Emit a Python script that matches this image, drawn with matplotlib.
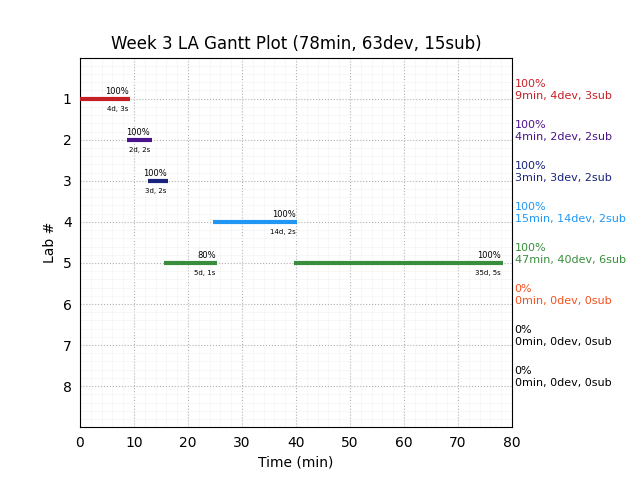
import matplotlib
matplotlib.use("Agg")
import matplotlib.pyplot as plt
from matplotlib.ticker import MultipleLocator

# ---- data ------------------------------------------------------------------
labs = [1, 2, 3, 4, 5, 6, 7, 8]
lab_colors = ["#c62026", "#4a148c", "#1a237e", "#2196f3", "#388e3c",
              "#f4511e", "black", "black"]
lab_pct = [100, 100, 100, 100, 100, 0, 0, 0]
lab_min = [9, 4, 3, 15, 47, 0, 0, 0]
lab_dev = [4, 2, 3, 14, 40, 0, 0, 0]
lab_sub = [3, 2, 2, 2, 6, 0, 0, 0]

# segments: (lab, start, end, percent, devs, subs)
seg_lab = [1, 2, 3, 4, 5, 5]
seg_start = [0.0, 8.7, 12.6, 24.6, 15.6, 39.6]
seg_end = [9.3, 13.3, 16.3, 40.2, 25.4, 78.3]
seg_pct = [100, 100, 100, 100, 80, 100]
seg_dev = [4, 2, 3, 14, 5, 35]
seg_sub = [3, 2, 2, 2, 1, 5]

fig, ax = plt.subplots(figsize=(6.4, 4.8), dpi=100)
fig.subplots_adjust(left=0.125, right=0.8, top=0.88, bottom=0.11)

for lab, x0, x1, p, d, s in zip(seg_lab, seg_start, seg_end, seg_pct, seg_dev, seg_sub):
    c = lab_colors[lab - 1]
    ax.plot([x0, x1], [lab, lab], color=c, lw=3, solid_capstyle="butt", zorder=3)
    ax.text(x1 - 0.3, lab - 0.06, f"{p}%", ha="right", va="bottom", fontsize=6)
    ax.text(x1 - 0.3, lab + 0.17, f"{d}d, {s}s", ha="right", va="top", fontsize=5)

for lab, c, p, m, d, s in zip(labs, lab_colors, lab_pct, lab_min, lab_dev, lab_sub):
    ax.text(1.006, lab + 0.05, f"{p}%\n{m}min, {d}dev, {s}sub", color=c,
            fontsize=8, ha="left", va="bottom",
            transform=ax.get_yaxis_transform(), linespacing=1.25)

ax.set_xlim(0, 80)
ax.set_ylim(9, 0)
ax.set_yticks(labs)
ax.xaxis.set_minor_locator(MultipleLocator(2))
ax.yaxis.set_minor_locator(MultipleLocator(0.2))
ax.grid(which="major", color="#b0b0b0", ls=":", lw=0.8)
ax.grid(which="minor", color="#f4f4f4", ls="-", lw=0.5)
ax.tick_params(which="minor", length=0)
ax.tick_params(which="major", length=0, pad=6)
ax.set_axisbelow(True)
ax.set_xlabel("Time (min)")
ax.set_ylabel("Lab #")
ax.set_title("Week 3 LA Gantt Plot (78min, 63dev, 15sub)", fontsize=12)

plt.savefig("out.png", dpi=100)
